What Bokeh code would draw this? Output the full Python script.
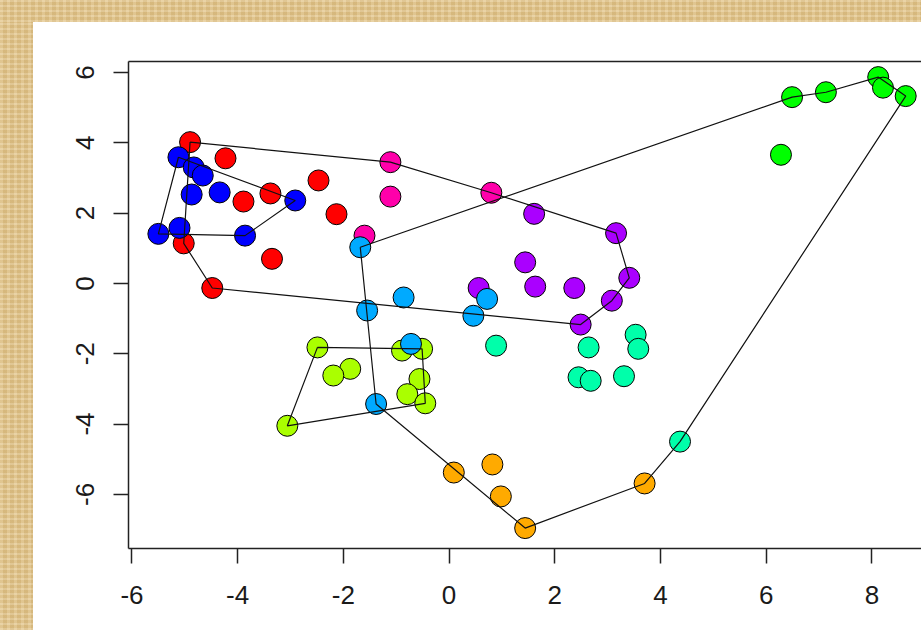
from math import pi
from bokeh.plotting import figure
from bokeh.models import Range1d, LinearAxis, FixedTicker, Label, Div
from bokeh.layouts import column, row
from bokeh.embed import file_html
from bokeh.resources import INLINE

# ---------------- data ----------------
group_order = ["red", "blue", "pink", "violet", "lime", "azure", "orange", "spring", "green"]
group_colors = {
    "red": "#FF0000", "orange": "#FFAA00", "lime": "#AAFF00", "green": "#00FF00",
    "spring": "#00FFAA", "azure": "#00AAFF", "blue": "#0000FF", "violet": "#AA00FF",
    "pink": "#FF00AA",
}

red_x = [-4.90, -4.23, -2.47, -2.13, -3.89, -3.38, -5.02, -3.35, -4.48]
red_y = [4.02, 3.56, 2.93, 1.97, 2.33, 2.56, 1.14, 0.70, -0.13]

blue_x = [-5.12, -4.83, -4.66, -4.87, -4.34, -2.91, -5.50, -5.10, -3.86]
blue_y = [3.59, 3.30, 3.07, 2.53, 2.59, 2.36, 1.41, 1.58, 1.36]

pink_x = [-1.11, -1.11, -1.60, 0.80]
pink_y = [3.45, 2.47, 1.36, 2.58]

violet_x = [1.61, 3.16, 1.44, 1.63, 2.37, 3.41, 3.08, 0.56, 2.49]
violet_y = [1.98, 1.43, 0.60, -0.09, -0.13, 0.16, -0.49, -0.13, -1.17]

azure_x = [-1.68, -0.86, -1.55, 0.72, 0.46, -0.72, -1.38]
azure_y = [1.03, -0.40, -0.77, -0.44, -0.92, -1.72, -3.43]

lime_x = [-2.49, -1.87, -2.19, -0.89, -0.51, -0.56, -0.79, -0.45, -3.06]
lime_y = [-1.82, -2.43, -2.62, -1.91, -1.86, -2.72, -3.15, -3.41, -4.05]

orange_x = [0.09, 0.82, 0.98, 1.44, 3.70]
orange_y = [-5.38, -5.15, -6.06, -6.96, -5.69]

spring_x = [0.89, 2.64, 3.53, 3.58, 2.45, 2.68, 3.31, 4.37]
spring_y = [-1.77, -1.82, -1.46, -1.86, -2.67, -2.77, -2.64, -4.50]

green_x = [6.49, 7.13, 8.12, 8.21, 8.64, 6.28]
green_y = [5.30, 5.44, 5.87, 5.57, 5.33, 3.66]

points = {
    "red": (red_x, red_y), "blue": (blue_x, blue_y), "pink": (pink_x, pink_y),
    "violet": (violet_x, violet_y), "azure": (azure_x, azure_y), "lime": (lime_x, lime_y),
    "orange": (orange_x, orange_y), "spring": (spring_x, spring_y), "green": (green_x, green_y),
}

# hull outlines: (group, point index) vertices
hull_1 = [("red", 0), ("pink", 0), ("pink", 3), ("violet", 1), ("violet", 5),
          ("violet", 6), ("violet", 8), ("red", 8), ("red", 6)]
hull_2 = [("blue", 0), ("blue", 5), ("blue", 8), ("blue", 6)]
hull_3 = [("lime", 0), ("lime", 4), ("lime", 7), ("lime", 8)]
hull_4 = [("azure", 0), ("green", 0), ("green", 1), ("green", 2), ("green", 4),
          ("spring", 7), ("orange", 4), ("orange", 3), ("azure", 6)]
hulls = [hull_1, hull_2, hull_3, hull_4]

x_ticks = [-6, -4, -2, 0, 2, 4, 6, 8]
y_ticks = [-6, -4, -2, 0, 2, 4, 6]
x_title = "CV1 (31.7 %)"
y_title = "CV2 (22.8 %)"

# ---------------- figure ----------------
FONT = "Liberation Sans"
TXT = "#1a1a1a"

p = figure(width=888, height=608, output_backend="svg", toolbar_location=None,
           x_range=Range1d(-6.065, 8.939), y_range=Range1d(-7.541, 6.314),
           min_border_left=95, min_border_top=39, min_border_bottom=82, min_border_right=0)
p.margin = 0
p.grid.visible = False
p.outline_line_color = None
p.background_fill_color = "white"
p.border_fill_color = "white"

for ax, ticks in ((p.xaxis[0], x_ticks), (p.yaxis[0], y_ticks)):
    ax.ticker = FixedTicker(ticks=ticks)
    ax.major_label_overrides = {t: str(t) for t in ticks}
    ax.minor_tick_line_color = None
    ax.major_tick_out = 15
    ax.major_tick_in = 0
    ax.major_tick_line_width = 1.5
    ax.major_tick_line_color = "#222222"
    ax.axis_line_width = 1.5
    ax.axis_line_color = "#222222"
    ax.major_label_text_font = FONT
    ax.major_label_text_font_size = "26px"
    ax.major_label_text_color = TXT

p.xaxis.major_label_standoff = 22
p.yaxis.major_label_standoff = 19
p.yaxis.major_label_orientation = "vertical"

top_axis = LinearAxis(ticker=FixedTicker(ticks=[]), axis_line_width=1.5,
                      axis_line_color="#222222", major_tick_line_color=None,
                      minor_tick_line_color=None, major_label_text_font_size="0px")
p.add_layout(top_axis, "above")

for g in group_order:
    xs, ys = points[g]
    p.scatter(xs, ys, size=21, fill_color=group_colors[g], line_color="black",
              line_width=1)

for h in hulls:
    verts = h + [h[0]]
    hx = [points[g][0][i] for g, i in verts]
    hy = [points[g][1][i] for g, i in verts]
    p.line(hx, hy, line_color="#111111", line_width=1.2)

p.add_layout(Label(x=-7.565, y=-0.36, text=y_title, angle=pi / 2,
                   text_align="center", text_baseline="middle",
                   text_font=FONT, text_font_size="26px", text_color=TXT))
p.add_layout(Label(x=0.983, y=-9.21, text=x_title,
                   text_align="center", text_baseline="top",
                   text_font=FONT, text_font_size="26px", text_color=TXT))

tan = {
    "background-color": "#e3c68b",
    "background-image": (
        "repeating-linear-gradient(0deg, rgba(255,255,255,0.14) 0px, rgba(255,255,255,0.14) 2px, "
        "rgba(120,80,20,0.05) 2px, rgba(120,80,20,0.05) 5px), "
        "repeating-linear-gradient(90deg, rgba(255,255,255,0.10) 0px, rgba(255,255,255,0.10) 3px, "
        "rgba(120,80,20,0.07) 3px, rgba(120,80,20,0.07) 7px)"
    ),
}
top_strip = Div(text="", width=921, height=22, styles=tan, margin=0)
left_strip = Div(text="", width=33, height=608, styles=tan, margin=0)
layout = column(top_strip, row(left_strip, p, margin=0, spacing=0),
                margin=0, spacing=0)

open("out.html", "w").write(file_html(layout, INLINE))
